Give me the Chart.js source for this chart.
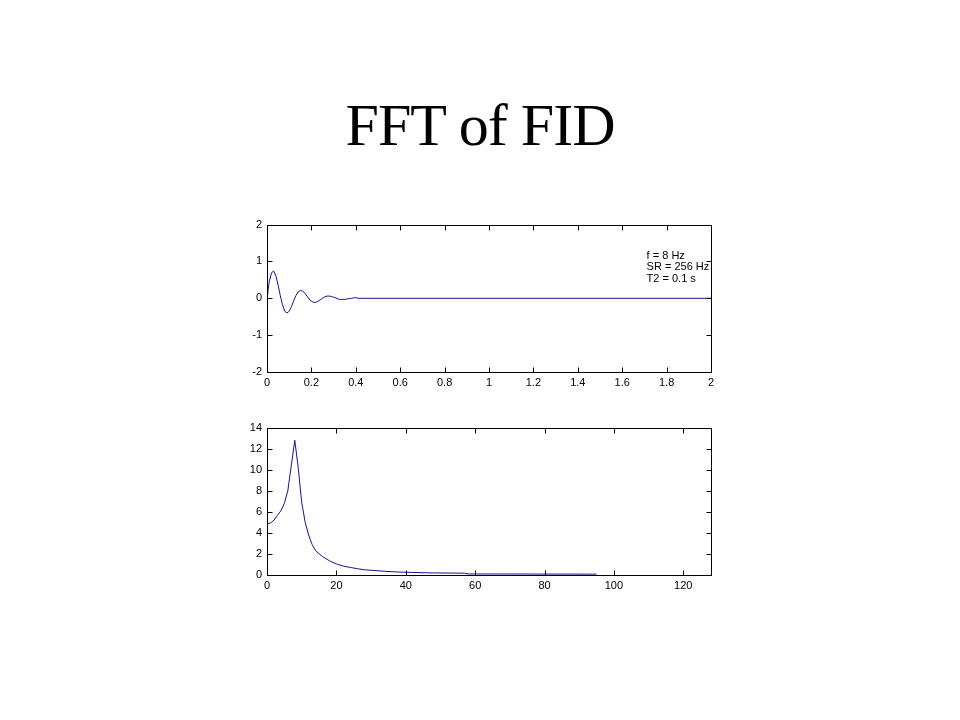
<!DOCTYPE html>
<html>
<head>
<meta charset="utf-8">
<script src="https://cdn.jsdelivr.net/npm/chart.js@4"></script>
<style>
  body { margin: 0; background: #fff; width: 960px; height: 720px; position: relative; overflow: hidden; }
  h1 { position: absolute; left: 0; width: 960px; top: 91px; margin: 0; text-align: center; letter-spacing: -1px;
       font: 60px "Liberation Serif", "Times New Roman", serif; font-weight: normal; color: #000; }
  canvas { position: absolute; }
</style>
</head>
<body>
<h1>FFT of FID</h1>
<canvas id="fidChart" width="505" height="184" style="left:225px; top:213px;"></canvas>
<canvas id="fftChart" width="505" height="184" style="left:225px; top:416px;"></canvas>
<script>
// FID signal (time in s, amplitude)
const fidTime = [0, 0.004, 0.01, 0.02, 0.03, 0.04, 0.05, 0.06, 0.07, 0.08, 0.09, 0.10, 0.11, 0.12, 0.13,
  0.14, 0.15, 0.16, 0.17, 0.18, 0.19, 0.20, 0.21, 0.22, 0.23, 0.24, 0.25, 0.26, 0.27, 0.28, 0.29,
  0.30, 0.31, 0.32, 0.33, 0.34, 0.35, 0.36, 0.37, 0.38, 0.39, 0.40, 0.41, 2.0];
const fidValue = [0.1, 0.19, 0.44, 0.69, 0.74, 0.61, 0.36, 0.07, -0.18, -0.35, -0.40, -0.35, -0.23, -0.07, 0.07,
  0.17, 0.21, 0.20, 0.14, 0.06, -0.02, -0.08, -0.11, -0.11, -0.08, -0.04, 0.0, 0.04, 0.06, 0.06, 0.05,
  0.03, 0.01, -0.02, -0.03, -0.03, -0.03, -0.02, -0.01, 0.0, 0.01, 0.02, 0.0, 0.0];

// FFT magnitude (frequency in Hz)
const fftFreq = [0, 1, 2, 3, 4, 5, 6, 7, 8, 9, 10, 11, 12, 13, 14, 16, 18, 20, 22, 24, 26, 28, 30,
  34, 38, 42, 48, 57, 58, 95];
const fftMag = [4.85, 4.95, 5.2, 5.65, 6.1, 6.8, 8.0, 10.4, 12.8, 10.2, 6.9, 5.0, 3.8, 2.9, 2.3, 1.75,
  1.35, 1.05, 0.85, 0.72, 0.6, 0.5, 0.45, 0.35, 0.28, 0.24, 0.2, 0.17, 0.1, 0.08];

const notes = ['f = 8 Hz', 'SR = 256 Hz', 'T2 = 0.1 s'];

const lineColor = '#14148c';
const tickFont = { family: '"Liberation Sans", Arial, sans-serif', size: 11 };

// MATLAB style box with inward ticks on all four sides
const boxPlugin = {
  id: 'box',
  afterDraw(chart) {
    const { ctx, chartArea: a, scales: { x, y } } = chart;
    ctx.save();
    ctx.strokeStyle = '#000';
    ctx.lineWidth = 1;
    const l = Math.round(a.left) + 0.5, r = Math.round(a.right) + 0.5;
    const t = Math.round(a.top) + 0.5, b = Math.round(a.bottom) + 0.5;
    ctx.strokeRect(l, t, r - l, b - t);
    ctx.beginPath();
    x.ticks.forEach(tk => {
      const px = Math.round(x.getPixelForValue(tk.value)) + 0.5;
      ctx.moveTo(px, b); ctx.lineTo(px, b - 5);
      ctx.moveTo(px, t); ctx.lineTo(px, t + 5);
    });
    y.ticks.forEach(tk => {
      const py = Math.round(y.getPixelForValue(tk.value)) + 0.5;
      ctx.moveTo(l, py); ctx.lineTo(l + 5, py);
      ctx.moveTo(r, py); ctx.lineTo(r - 5, py);
    });
    ctx.stroke();
    ctx.restore();
  }
};

// Parameter text in the upper plot
const notesPlugin = {
  id: 'notes',
  afterDraw(chart) {
    if (chart.canvas.id !== 'fidChart') return;
    const { ctx, scales: { x, y } } = chart;
    ctx.save();
    ctx.fillStyle = '#000';
    ctx.font = '11px "Liberation Sans", Arial, sans-serif';
    ctx.textBaseline = 'middle';
    const px = x.getPixelForValue(1.71);
    notes.forEach((s, i) => ctx.fillText(s, px, y.getPixelForValue(1.16) + i * 11.5));
    ctx.restore();
  }
};

function makeChart(id, xs, ys, xOpts, yOpts) {
  return new Chart(document.getElementById(id), {
    type: 'line',
    data: {
      datasets: [{
        data: xs.map((v, i) => ({ x: v, y: ys[i] })),
        borderColor: lineColor,
        borderWidth: 1,
        pointRadius: 0,
        tension: 0,
        fill: false
      }]
    },
    options: {
      responsive: false,
      animation: false,
      devicePixelRatio: 1,
      layout: { padding: { top: 8, right: 19, left: 0, bottom: 0 } },
      plugins: { legend: { display: false }, tooltip: { enabled: false } },
      scales: {
        x: Object.assign({
          type: 'linear',
          grid: { display: false, drawTicks: false },
          border: { display: false },
          afterFit: s => { s.height = 25; }
        }, xOpts),
        y: Object.assign({
          grid: { display: false, drawTicks: false },
          border: { display: false },
          afterFit: s => { s.width = 42; }
        }, yOpts)
      }
    },
    plugins: [boxPlugin, notesPlugin]
  });
}

const fmt = v => String(Math.round(v * 10) / 10);

makeChart('fidChart', fidTime, fidValue,
  { min: 0, max: 2, ticks: { stepSize: 0.2, font: tickFont, color: '#000', padding: 4, maxRotation: 0, callback: fmt } },
  { min: -2, max: 2, ticks: { stepSize: 1, font: tickFont, color: '#000', padding: 5, callback: fmt } });

makeChart('fftChart', fftFreq, fftMag,
  { min: 0, max: 128, ticks: { stepSize: 20, includeBounds: false, font: tickFont, color: '#000', padding: 4, maxRotation: 0 } },
  { min: 0, max: 14, ticks: { stepSize: 2, font: tickFont, color: '#000', padding: 5 } });
</script>
</body>
</html>
